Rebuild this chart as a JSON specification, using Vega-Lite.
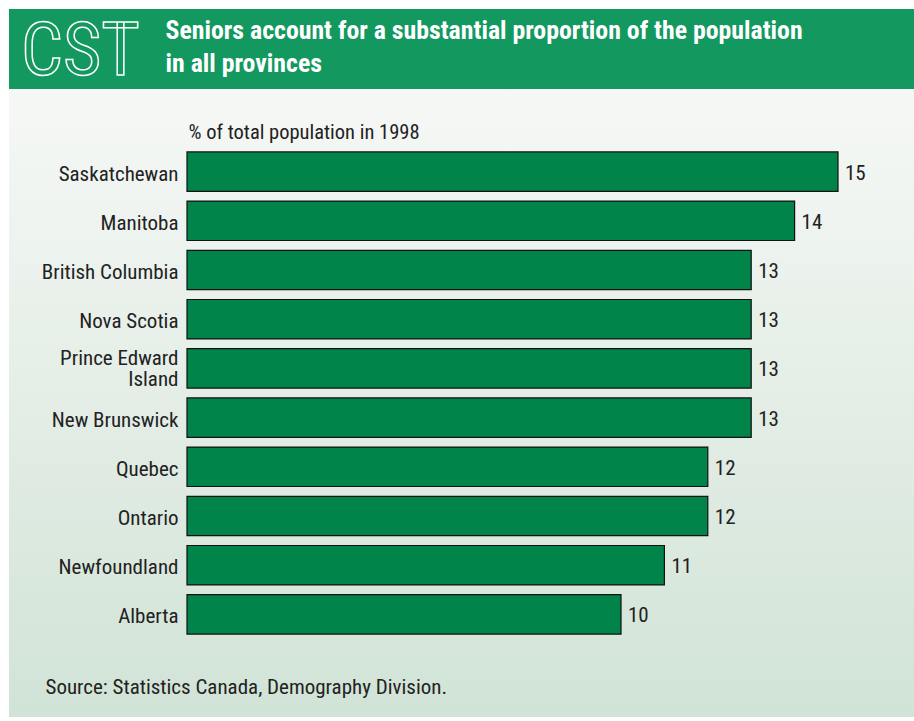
{
  "$schema": "https://vega.github.io/schema/vega-lite/v6.json",
  "width": 914,
  "height": 721,
  "autosize": {"type": "fit", "contains": "padding"},
  "padding": {"left": 9, "top": 9, "right": 0, "bottom": 4},
  "background": "white",
  "title": {
    "text": "CST",
    "anchor": "start",
    "frame": "group",
    "orient": "top",
    "baseline": "top",
    "offset": -82,
    "dx": 12,
    "fontSize": 74,
    "fontWeight": "normal"
  },
  "data": {
    "values": [
      {"province": "Saskatchewan", "pct": 15},
      {"province": "Manitoba", "pct": 14},
      {"province": "British Columbia", "pct": 13},
      {"province": "Nova Scotia", "pct": 13},
      {"province": "Prince Edward Island", "pct": 13},
      {"province": "New Brunswick", "pct": 13},
      {"province": "Quebec", "pct": 12},
      {"province": "Ontario", "pct": 12},
      {"province": "Newfoundland", "pct": 11},
      {"province": "Alberta", "pct": 10}
    ]
  },
  "encoding": {
    "y": {
      "field": "province",
      "type": "nominal",
      "sort": null,
      "scale": {"range": [138, 630], "paddingInner": 0.2, "paddingOuter": 0.1},
      "axis": {
        "title": "% of total population in 1998",
        "titleAngle": 0,
        "titleAlign": "left",
        "titleBaseline": "middle",
        "titleAnchor": null,
        "titleX": 1,
        "titleY": 123,
        "titleFontSize": 20.5,
        "titleFontWeight": "normal",
        "titleColor": "#222222",
        "offset": -178,
        "domain": false,
        "ticks": false,
        "grid": false,
        "labelPadding": 9,
        "labelFontSize": 21,
        "labelColor": "#222222",
        "labelLineHeight": 21,
        "labelOffset": {"condition": {"test": "datum.value == 'Prince Edward Island'", "value": -9.5}, "value": 3},
        "labelExpr": "datum.value == 'Prince Edward Island' ? ['Prince Edward', 'Island'] : datum.value"
      }
    }
  },
  "layer": [
    {
      "mark": {"type": "bar", "fill": "#00844A", "stroke": "#111111", "strokeWidth": 1.2},
      "encoding": {
        "x": {
          "field": "pct",
          "type": "quantitative",
          "scale": {"domain": [0, 15], "range": [178, 829], "nice": false, "zero": true},
          "axis": {
            "orient": "top",
            "title": ["Seniors account for a substantial proportion of the population", "in all provinces"],
            "labels": false,
            "ticks": false,
            "domain": false,
            "grid": false,
            "titleAnchor": null,
            "titleAlign": "left",
            "titleBaseline": "top",
            "titleAngle": 0,
            "titleX": 156,
            "titleY": 9,
            "titleColor": "white",
            "titleFontSize": 25.8,
            "titleFontWeight": "bold",
            "titleLineHeight": 33,
            "titleLimit": 0
          }
        }
      }
    },
    {
      "mark": {"type": "text", "align": "left", "baseline": "middle", "dx": 7, "dy": 2, "fontSize": 21, "color": "#222222"},
      "encoding": {
        "x": {
          "field": "pct",
          "type": "quantitative",
          "axis": {
            "orient": "bottom",
            "title": "Source: Statistics Canada, Demography Division.",
            "labels": false,
            "ticks": false,
            "domain": false,
            "grid": false,
            "titleAnchor": null,
            "titleAlign": "left",
            "titleBaseline": "middle",
            "titleAngle": 0,
            "titleX": 36,
            "titleY": -30,
            "titleColor": "#222222",
            "titleFontSize": 21,
            "titleFontWeight": "normal",
            "titleLimit": 0
          }
        },
        "text": {"field": "pct", "type": "quantitative"}
      }
    }
  ],
  "resolve": {"axis": {"x": "independent"}},
  "config": {
    "font": "'Roboto Condensed', 'DejaVu Sans Condensed', 'Liberation Sans Narrow', Roboto, sans-serif",
    "view": {
      "stroke": null,
      "fill": {
        "gradient": "linear",
        "x1": 0, "y1": 0, "x2": 0, "y2": 1,
        "stops": [
          {"offset": 0, "color": "#13985F"},
          {"offset": 0.113, "color": "#13985F"},
          {"offset": 0.1131, "color": "#F6F8F6"},
          {"offset": 1, "color": "#D1E3D6"}
        ]
      }
    },
    "style": {
      "group-title": {"fill": "#13985F", "stroke": "#ffffff", "strokeWidth": 1.5}
    }
  }
}
